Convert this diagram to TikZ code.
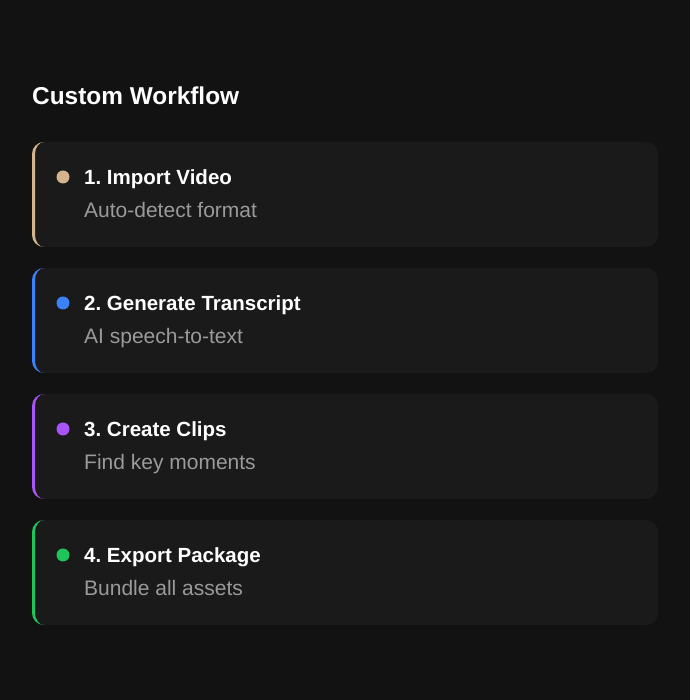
\documentclass[tikz,border=0pt]{standalone}
\usepackage{fontspec}
\setmainfont{Liberation Sans}
\frenchspacing
\definecolor{pagebg}{HTML}{121212}
\definecolor{cardbg}{HTML}{1A1A1A}
\definecolor{subgray}{HTML}{9A9A9A}
\definecolor{stepTan}{HTML}{D4B48C}
\definecolor{stepBlue}{HTML}{3B82F6}
\definecolor{stepPurple}{HTML}{A855F7}
\definecolor{stepGreen}{HTML}{1FC45A}

\begin{document}
\begin{tikzpicture}
		[x=1pt,y=1pt,
		heading/.style={anchor=base west,inner sep=0pt,text=white,font=\bfseries\fontsize{24.4}{28}\selectfont},
		step card/.style={fill=cardbg,rounded corners=12pt},
		step title/.style={anchor=base west,inner sep=0pt,text=white,font=\bfseries\fontsize{20.5}{24}\selectfont},
		step sub/.style={anchor=base west,inner sep=0pt,text=subgray,font=\fontsize{21}{25}\selectfont},
		step dot/.style={shape=circle,inner sep=0pt,minimum size=13pt}
		]
		
		\fill[pagebg] (0,0) rectangle (690,700);
		
		\node [heading] (heading) at (32,595) {Custom Workflow};
		
		\foreach \i/\col/\name/\desc in {0/stepTan/1. Import Video/Auto-detect format,
			1/stepBlue/2. Generate Transcript/AI speech-to-text,
			2/stepPurple/3. Create Clips/Find key moments,
			3/stepGreen/4. Export Package/Bundle all assets}
		{
			\pgfmathsetmacro\top{558-126*\i}
			% card with coloured left edge
			\fill[step card] (32,\top-105) rectangle (658,\top);
			\begin{scope}
				\clip[rounded corners=12pt] (32,\top-105) rectangle (658,\top);
				\fill[\col] (44,\top+1) -- (31,\top+1) -- (31,\top-106) -- (44,\top-106) -- (44,\top-105)
				arc[start angle=270,end angle=180,x radius=9,y radius=12]
				-- (35,\top-12) arc[start angle=180,end angle=90,x radius=9,y radius=12]
				-- cycle;
			\end{scope}
			
			\node [step dot,fill=\col] (dot\i) at (63,\top-35) {};
			\node [step title] (title\i) at (84,\top-43) {\name};
			\node [step sub] (sub\i) at (84,\top-76) {\desc};
		}
		
	\end{tikzpicture}
\end{document}
